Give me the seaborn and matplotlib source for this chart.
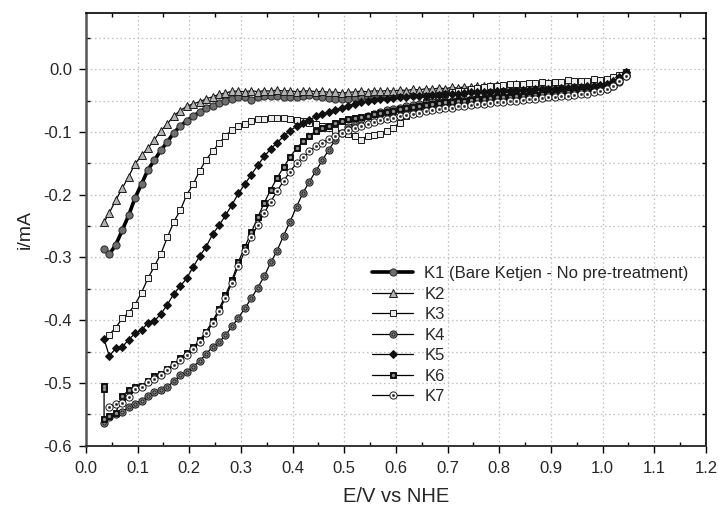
import matplotlib
matplotlib.use("Agg")
import matplotlib.pyplot as plt
import seaborn as sns
import pandas as pd
from matplotlib.ticker import MultipleLocator, FormatStrFormatter

# ---------------- data ----------------
E_GRID = [0.045, 0.0575, 0.07, 0.0825, 0.095, 0.1075, 0.12, 0.1325, 0.145, 0.1575,
          0.17, 0.1825, 0.195, 0.2075, 0.22, 0.2325, 0.245, 0.2575, 0.27, 0.2825,
          0.295, 0.3075, 0.32, 0.3325, 0.345, 0.3575, 0.37, 0.3825, 0.395, 0.4075,
          0.42, 0.4325, 0.445, 0.4575, 0.47, 0.4825, 0.495, 0.5075, 0.52, 0.5325,
          0.545, 0.5575, 0.57, 0.5825, 0.595, 0.6075, 0.62, 0.6325, 0.645, 0.6575,
          0.67, 0.6825, 0.695, 0.7075, 0.72, 0.7325, 0.745, 0.7575, 0.77, 0.7825,
          0.795, 0.8075, 0.82, 0.8325, 0.845, 0.8575, 0.87, 0.8825, 0.895, 0.9075,
          0.92, 0.9325, 0.945, 0.9575, 0.97, 0.9825, 0.995, 1.0075, 1.02, 1.0325,
          1.045]

K1_TAIL_E = [0.035]
K1_TAIL_I = [-0.286]
K1_I = [-0.295, -0.280, -0.257, -0.233, -0.205, -0.183, -0.160, -0.145, -0.129, -0.116,
        -0.101, -0.091, -0.082, -0.075, -0.068, -0.062, -0.058, -0.054, -0.051, -0.048,
        -0.045, -0.045, -0.049, -0.045, -0.043, -0.043, -0.043, -0.044, -0.044, -0.045,
        -0.043, -0.041, -0.043, -0.045, -0.046, -0.047, -0.048, -0.047, -0.046, -0.045,
        -0.044, -0.044, -0.043, -0.043, -0.042, -0.042, -0.041, -0.041, -0.040, -0.039,
        -0.038, -0.038, -0.037, -0.037, -0.036, -0.036, -0.035, -0.035, -0.034, -0.034,
        -0.033, -0.033, -0.032, -0.032, -0.031, -0.031, -0.030, -0.030, -0.029, -0.029,
        -0.028, -0.028, -0.027, -0.026, -0.025, -0.024, -0.022, -0.020, -0.017, -0.012,
        -0.006]

K2_TAIL_E = [0.035]
K2_TAIL_I = [-0.244]
K2_I = [-0.229, -0.209, -0.190, -0.171, -0.151, -0.137, -0.126, -0.112, -0.098, -0.087,
        -0.074, -0.066, -0.059, -0.055, -0.052, -0.047, -0.044, -0.040, -0.038, -0.035,
        -0.035, -0.036, -0.034, -0.036, -0.034, -0.035, -0.033, -0.035, -0.034, -0.036,
        -0.035, -0.034, -0.036, -0.035, -0.037, -0.036, -0.038, -0.037, -0.036, -0.035,
        -0.036, -0.034, -0.035, -0.034, -0.035, -0.033, -0.034, -0.032, -0.033, -0.031,
        -0.032, -0.030, -0.031, -0.029, -0.030, -0.028, -0.029, -0.027, -0.026, -0.027,
        -0.025, -0.026, -0.025, -0.024, -0.025, -0.023, -0.024, -0.023, -0.022, -0.023,
        -0.022, -0.021, -0.022, -0.020, -0.021, -0.019, -0.018, -0.017, -0.014, -0.010,
        -0.004]

K3_TAIL_E = []
K3_TAIL_I = []
K3_I = [-0.423, -0.412, -0.397, -0.388, -0.375, -0.356, -0.333, -0.314, -0.294, -0.268,
        -0.243, -0.225, -0.200, -0.183, -0.162, -0.144, -0.131, -0.118, -0.106, -0.097,
        -0.090, -0.087, -0.083, -0.080, -0.079, -0.078, -0.077, -0.078, -0.079, -0.081,
        -0.083, -0.085, -0.087, -0.090, -0.094, -0.097, -0.101, -0.104, -0.106, -0.112,
        -0.106, -0.105, -0.103, -0.099, -0.093, -0.085, -0.075, -0.066, -0.058, -0.052,
        -0.047, -0.043, -0.040, -0.037, -0.035, -0.034, -0.032, -0.030, -0.029, -0.027,
        -0.026, -0.025, -0.024, -0.024, -0.023, -0.022, -0.022, -0.021, -0.022, -0.020,
        -0.021, -0.017, -0.019, -0.018, -0.019, -0.016, -0.017, -0.016, -0.013, -0.009,
        -0.004]

K4_TAIL_E = [0.035]
K4_TAIL_I = [-0.564]
K4_I = [-0.555, -0.550, -0.546, -0.539, -0.533, -0.528, -0.521, -0.514, -0.511, -0.506,
        -0.497, -0.488, -0.482, -0.474, -0.465, -0.454, -0.442, -0.435, -0.424, -0.410,
        -0.396, -0.381, -0.365, -0.348, -0.330, -0.308, -0.289, -0.265, -0.243, -0.219,
        -0.197, -0.179, -0.162, -0.145, -0.128, -0.113, -0.101, -0.092, -0.085, -0.079,
        -0.075, -0.071, -0.068, -0.065, -0.063, -0.061, -0.059, -0.057, -0.056, -0.054,
        -0.053, -0.052, -0.051, -0.050, -0.049, -0.048, -0.047, -0.046, -0.046, -0.045,
        -0.044, -0.044, -0.043, -0.043, -0.042, -0.042, -0.041, -0.041, -0.040, -0.040,
        -0.039, -0.039, -0.038, -0.037, -0.036, -0.035, -0.033, -0.031, -0.027, -0.020,
        -0.010]

K5_TAIL_E = [0.035]
K5_TAIL_I = [-0.430]
K5_I = [-0.457, -0.445, -0.443, -0.431, -0.421, -0.415, -0.405, -0.401, -0.390, -0.375,
        -0.358, -0.346, -0.333, -0.315, -0.298, -0.283, -0.263, -0.249, -0.233, -0.216,
        -0.198, -0.183, -0.168, -0.153, -0.139, -0.127, -0.117, -0.107, -0.098, -0.091,
        -0.086, -0.081, -0.075, -0.072, -0.068, -0.065, -0.061, -0.058, -0.055, -0.053,
        -0.051, -0.049, -0.048, -0.047, -0.046, -0.045, -0.044, -0.043, -0.043, -0.042,
        -0.041, -0.041, -0.040, -0.039, -0.039, -0.038, -0.037, -0.037, -0.036, -0.036,
        -0.035, -0.035, -0.034, -0.034, -0.033, -0.033, -0.032, -0.032, -0.031, -0.031,
        -0.030, -0.030, -0.029, -0.028, -0.027, -0.026, -0.025, -0.023, -0.019, -0.013,
        -0.005]

K6_TAIL_E = [0.035, 0.035, 0.035]
K6_TAIL_I = [-0.505, -0.510, -0.557]
K6_I = [-0.553, -0.548, -0.521, -0.512, -0.507, -0.505, -0.497, -0.489, -0.486, -0.477,
        -0.470, -0.461, -0.452, -0.443, -0.432, -0.418, -0.402, -0.382, -0.360, -0.336,
        -0.307, -0.283, -0.260, -0.236, -0.213, -0.192, -0.173, -0.156, -0.140, -0.126,
        -0.115, -0.106, -0.099, -0.094, -0.090, -0.086, -0.083, -0.080, -0.078, -0.076,
        -0.074, -0.072, -0.070, -0.068, -0.066, -0.064, -0.062, -0.060, -0.058, -0.057,
        -0.055, -0.054, -0.053, -0.052, -0.051, -0.050, -0.049, -0.048, -0.047, -0.046,
        -0.045, -0.044, -0.044, -0.043, -0.042, -0.042, -0.041, -0.040, -0.040, -0.039,
        -0.038, -0.037, -0.036, -0.035, -0.034, -0.033, -0.031, -0.028, -0.024, -0.017,
        -0.008]

K7_TAIL_E = []
K7_TAIL_I = []
K7_I = [-0.538, -0.534, -0.532, -0.523, -0.510, -0.507, -0.499, -0.494, -0.488, -0.480,
        -0.472, -0.463, -0.455, -0.446, -0.435, -0.421, -0.405, -0.386, -0.364, -0.340,
        -0.313, -0.290, -0.268, -0.248, -0.229, -0.211, -0.194, -0.178, -0.163, -0.150,
        -0.140, -0.131, -0.123, -0.117, -0.111, -0.106, -0.101, -0.097, -0.093, -0.090,
        -0.087, -0.084, -0.081, -0.079, -0.077, -0.075, -0.073, -0.071, -0.069, -0.067,
        -0.065, -0.064, -0.062, -0.061, -0.059, -0.058, -0.057, -0.056, -0.055, -0.054,
        -0.053, -0.052, -0.051, -0.050, -0.049, -0.048, -0.047, -0.046, -0.045, -0.044,
        -0.043, -0.042, -0.041, -0.040, -0.039, -0.037, -0.035, -0.032, -0.027, -0.019,
        -0.010]

LABELS = ["K1 (Bare Ketjen - No pre-treatment)", "K2", "K3", "K4", "K5", "K6", "K7"]
X_TICKS = [0.0, 0.1, 0.2, 0.3, 0.4, 0.5, 0.6, 0.7, 0.8, 0.9, 1.0, 1.1, 1.2]
Y_TICKS = [-0.6, -0.5, -0.4, -0.3, -0.2, -0.1, 0.0]
X_LABEL = "E/V vs NHE"
Y_LABEL = "i/mA"

SERIES = [
    (K1_TAIL_E, K1_TAIL_I, K1_I),
    (K2_TAIL_E, K2_TAIL_I, K2_I),
    (K3_TAIL_E, K3_TAIL_I, K3_I),
    (K4_TAIL_E, K4_TAIL_I, K4_I),
    (K5_TAIL_E, K5_TAIL_I, K5_I),
    (K6_TAIL_E, K6_TAIL_I, K6_I),
    (K7_TAIL_E, K7_TAIL_I, K7_I),
]

# ---------------- styles ----------------
STYLES = [
    dict(marker="o", ms=5.2, mfc="#6e6e6e", mec="#2a2a2a", lw=2.6),
    dict(marker="^", ms=5.2, mfc="#b4b4b4", mec="#1a1a1a", lw=0.9),
    dict(marker="s", ms=4.8, mfc="#ececec", mec="#1a1a1a", lw=0.9),
    dict(marker="o", ms=5.2, mfc="#8a8a8a", mec="#1a1a1a", lw=0.9),
    dict(marker="D", ms=4.5, mfc="#111111", mec="#111111", lw=0.9),
    dict(marker="s", ms=4.8, mfc="#111111", mec="#111111", lw=0.9),
    dict(marker="o", ms=5.2, mfc="#ffffff", mec="#1a1a1a", lw=0.9),
]
# inner dots for "bullseye" style markers (K4, K6, K7)
INNER = {3: dict(ms=2.4, mfc="#8a8a8a", mec="#111111", mew=0.6),
         5: dict(ms=2.0, mfc="#9a9a9a", mec="#9a9a9a", mew=0.3),
         6: dict(ms=1.7, mfc="#222222", mec="#222222", mew=0.3)}

sns.set_theme(style="white")
plt.rcParams["font.family"] = ["Liberation Sans", "DejaVu Sans"]
plt.rcParams["axes.unicode_minus"] = False

fig = plt.figure(figsize=(7.19, 5.11), dpi=100)
ax = fig.add_axes([0.1196, 0.1278, 0.8623, 0.8472])

handles = []
for i, ((te, ti, vals), st) in enumerate(zip(SERIES, STYLES)):
    df = pd.DataFrame({"E": list(te) + E_GRID, "I": list(ti) + vals})
    n0 = len(ax.lines)
    sns.lineplot(data=df, x="E", y="I", sort=False, estimator=None, ax=ax,
                 color="black", linewidth=st["lw"], marker=st["marker"],
                 markersize=st["ms"], markerfacecolor=st["mfc"],
                 markeredgecolor=st["mec"], markeredgewidth=0.7,
                 zorder=3 + i * 0.1)
    main = ax.lines[n0]
    if i in INNER:
        d = INNER[i]
        sns.lineplot(data=df, x="E", y="I", sort=False, estimator=None, ax=ax,
                     color="black", linewidth=0, marker="o",
                     markersize=d["ms"], markerfacecolor=d["mfc"],
                     markeredgecolor=d["mec"], markeredgewidth=d["mew"],
                     zorder=3.05 + i * 0.1)
        handles.append((main, ax.lines[-1]))
    else:
        handles.append(main)

ax.set_xlim(0.0, 1.2)
ax.set_ylim(-0.6, 0.09)
ax.xaxis.set_major_locator(MultipleLocator(0.1))
ax.xaxis.set_minor_locator(MultipleLocator(0.05))
ax.yaxis.set_major_locator(MultipleLocator(0.1))
ax.yaxis.set_minor_locator(MultipleLocator(0.05))
ax.set_xticks(X_TICKS)
ax.set_yticks(Y_TICKS)
ax.xaxis.set_major_formatter(FormatStrFormatter("%.1f"))
ax.yaxis.set_major_formatter(FormatStrFormatter("%.1f"))

grid_kw = dict(color="#bdbdbd", linestyle=(0, (1.2, 2.2)), linewidth=0.9)
ax.grid(False)
ax.xaxis.grid(True, which="major", **grid_kw)
ax.yaxis.grid(True, which="major", **grid_kw)
ax.yaxis.grid(True, which="minor", **grid_kw)
ax.set_axisbelow(True)

ax.tick_params(which="major", direction="out", length=5, width=1.0, color="black",
               labelsize=12, bottom=True, left=True, top=False, right=False)
ax.tick_params(axis="x", which="major", pad=6)
ax.tick_params(axis="y", which="major", pad=5)
ax.tick_params(which="minor", direction="in", length=3, width=1.0, color="black",
               bottom=True, left=True, top=True, right=True)

for side, sp in ax.spines.items():
    sp.set_visible(True)
    sp.set_color("black")
    sp.set_linewidth(1.2)
ax.spines["left"].set_color("#555555")
ax.spines["left"].set_linewidth(1.8)
ax.spines["bottom"].set_color("#333333")
ax.spines["bottom"].set_linewidth(1.4)

ax.set_xlabel(X_LABEL, fontsize=14.5, labelpad=8)
ax.set_ylabel(Y_LABEL, fontsize=14, labelpad=7)

ax.legend(handles, LABELS, loc="upper left", bbox_to_anchor=(0.461, 0.415),
          frameon=False, fontsize=12, numpoints=1, handlelength=2.5,
          handletextpad=0.65, labelspacing=0.33, borderpad=0, borderaxespad=0)

fig.savefig("out.png", dpi=100)
